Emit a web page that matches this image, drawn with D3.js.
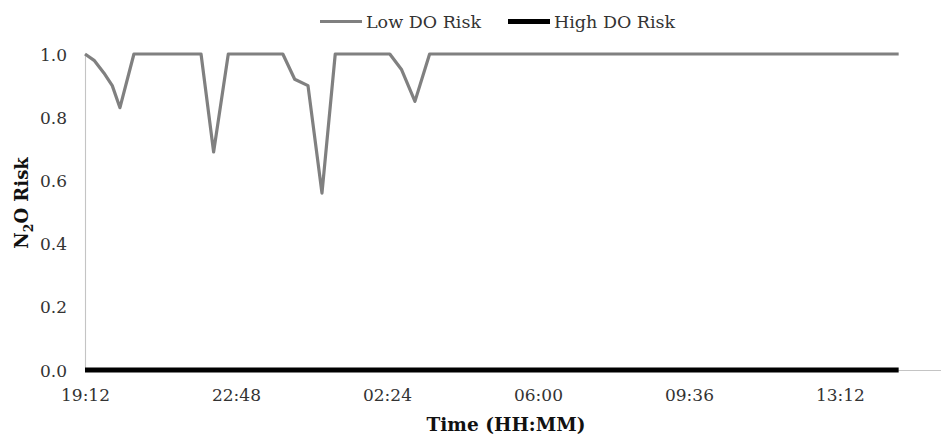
<!DOCTYPE html>
<html>
<head>
<meta charset="utf-8">
<script src="https://cdn.jsdelivr.net/npm/d3@7"></script>
<style>
  html, body { margin: 0; padding: 0; background: #fff; }
  svg { display: block; font-family: "DejaVu Serif", serif; }
</style>
</head>
<body>
<svg id="chart" width="941" height="438"></svg>
<script>
// Sample times (HH:MM, overnight run starting 19:12) and N2O risk per DO scenario
const times = ["19:12", "19:25", "19:39", "19:51", "20:02", "20:22", "21:58", "22:16", "22:37",
               "23:55", "00:12", "00:31", "00:51", "01:10", "02:28", "02:45", "03:04", "03:25", "14:36"];
const lowDORisk  = [1.00, 0.98, 0.94, 0.90, 0.83, 1.00, 1.00, 0.69, 1.00,
                    1.00, 0.92, 0.90, 0.56, 1.00, 1.00, 0.95, 0.85, 1.00, 1.00];
const highDORisk = [0, 0, 0, 0, 0, 0, 0, 0, 0,
                    0, 0, 0, 0, 0, 0, 0, 0, 0, 0];
const xTickLabels = ["19:12", "22:48", "02:24", "06:00", "09:36", "13:12"];
const xAxisEnd = "15:36";
const yTicks = [0, 0.2, 0.4, 0.6, 0.8, 1.0];
const seriesNames = ["Low DO Risk", "High DO Risk"];

// Turn HH:MM strings into dates that roll over past midnight
const startMin = 19 * 60 + 12;
function toDate(hhmm) {
  const [h, m] = hhmm.split(":").map(Number);
  let mins = h * 60 + m;
  if (mins < startMin) mins += 24 * 60;
  return new Date(2000, 0, 1, 0, mins);
}

const svg = d3.select("#chart");
const margin = { left: 85, right: 0.4, top: 54, bottom: 68 };
const W = 941, H = 438;

const x = d3.scaleTime()
  .domain([toDate(xTickLabels[0]), toDate(xAxisEnd)])
  .range([margin.left, W - margin.right]);
const y = d3.scaleLinear()
  .domain([0, 1])
  .range([H - margin.bottom, margin.top]);

// Axes
const xAxis = svg.append("g")
  .attr("transform", `translate(0,${y(0)})`)
  .call(d3.axisBottom(x)
    .tickValues(xTickLabels.map(toDate))
    .tickFormat(d3.timeFormat("%H:%M"))
    .tickSize(0)
    .tickPadding(19));
const yAxis = svg.append("g")
  .attr("transform", `translate(${margin.left},0)`)
  .call(d3.axisLeft(y)
    .tickValues(yTicks)
    .tickFormat(d3.format(".1f"))
    .tickSize(0)
    .tickPadding(18));

[xAxis, yAxis].forEach(g => {
  g.select(".domain").attr("stroke", "#c4c4c4").attr("stroke-width", 1.1);
  g.selectAll("text")
    .attr("fill", "#333")
    .style("font-family", "'DejaVu Serif', serif")
    .style("font-size", "17px");
});
yAxis.selectAll("text").attr("dy", "0.36em");

// Series lines
const rows = times.map((t, i) => ({ t: toDate(t), low: lowDORisk[i], high: highDORisk[i] }));
const line = key => d3.line().x(d => x(d.t)).y(d => y(d[key]));

svg.append("path")
  .datum(rows)
  .attr("fill", "none")
  .attr("stroke", "#000")
  .attr("stroke-width", 5)
  .attr("d", line("high"));

svg.append("path")
  .datum(rows)
  .attr("fill", "none")
  .attr("stroke", "#808080")
  .attr("stroke-width", 3.2)
  .attr("stroke-linejoin", "round")
  .attr("d", line("low"));

// Legend
const legend = [
  { name: seriesNames[0], color: "#808080", width: 3.2, x0: 320 },
  { name: seriesNames[1], color: "#000", width: 5, x0: 508 }
];
const lg = svg.append("g");
legend.forEach(l => {
  lg.append("line")
    .attr("x1", l.x0).attr("x2", l.x0 + 42)
    .attr("y1", 21.5).attr("y2", 21.5)
    .attr("stroke", l.color).attr("stroke-width", l.width);
  lg.append("text")
    .attr("x", l.x0 + 46).attr("y", 28)
    .attr("fill", "#333")
    .style("font-size", "17.5px")
    .text(l.name);
});

// Axis titles
svg.append("text")
  .attr("x", 506)
  .attr("y", 431)
  .attr("text-anchor", "middle")
  .attr("fill", "#111")
  .style("font-size", "18.5px")
  .style("font-weight", "bold")
  .text("Time (HH:MM)");

const yt = svg.append("text")
  .attr("transform", "translate(28,203) rotate(-90)")
  .attr("text-anchor", "middle")
  .attr("fill", "#111")
  .style("font-size", "18px")
  .style("font-weight", "bold");
yt.append("tspan").text("N");
yt.append("tspan").attr("dy", 5).style("font-size", "12.5px").text("2");
yt.append("tspan").attr("dy", -5).text("O Risk");
</script>
</body>
</html>
